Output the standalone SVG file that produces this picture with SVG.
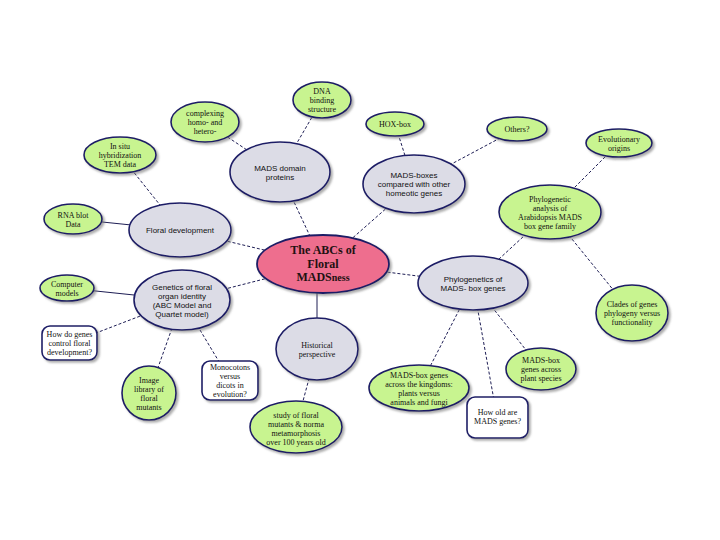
<svg xmlns="http://www.w3.org/2000/svg" width="720" height="540" viewBox="0 0 720 540">
<defs>
<filter id="sh" x="-20%" y="-20%" width="140%" height="140%"><feDropShadow dx="2" dy="2" stdDeviation="1" flood-color="#777" flood-opacity="0.6"/></filter>
<style>
.g{fill:#dcdce6;stroke:#1e1e66;stroke-width:1.6;filter:url(#sh)}
.n{fill:#c8f490;stroke:#1e1e66;stroke-width:1.6;filter:url(#sh)}
.w{fill:#ffffff;stroke:#1e1e66;stroke-width:1.6;filter:url(#sh)}
.c{fill:#ee6e8e;stroke:#1e1e66;stroke-width:1.8;filter:url(#sh)}
.ts{font-family:"Liberation Sans",Arial,sans-serif;font-size:8px;fill:#111;text-anchor:middle}
.tr{font-family:"Liberation Serif","Times New Roman",serif;font-size:8px;fill:#111;text-anchor:middle}
.tc{font-family:"Liberation Serif","Times New Roman",serif;font-size:12px;font-weight:bold;fill:#221111;text-anchor:middle}
#links line{stroke:#1e1e55;stroke-width:1;stroke-dasharray:3,2}
#links line.s{stroke-dasharray:none}
</style>
</defs>
<rect width="720" height="540" fill="#ffffff"/>
<g id="links">
<line x1="323" y1="264" x2="280" y2="172"/>
<line x1="323" y1="264" x2="414" y2="184"/>
<line x1="323" y1="264" x2="180" y2="230"/>
<line x1="323" y1="264" x2="182" y2="300"/>
<line class="s" x1="317" y1="264" x2="317" y2="349"/>
<line x1="323" y1="264" x2="473" y2="283"/>
<line x1="280" y1="172" x2="322" y2="100"/>
<line x1="280" y1="172" x2="205" y2="122"/>
<line x1="414" y1="184" x2="395" y2="124"/>
<line x1="414" y1="184" x2="517" y2="129"/>
<line x1="180" y1="230" x2="120" y2="155"/>
<line class="s" x1="180" y1="230" x2="73" y2="219"/>
<line class="s" x1="182" y1="300" x2="67" y2="288"/>
<line x1="182" y1="300" x2="70" y2="343"/>
<line x1="182" y1="300" x2="149" y2="393"/>
<line x1="182" y1="300" x2="230" y2="380"/>
<line x1="317" y1="349" x2="296" y2="427"/>
<line x1="473" y1="283" x2="550" y2="212"/>
<line x1="550" y1="212" x2="619" y2="143"/>
<line x1="550" y1="212" x2="632" y2="313"/>
<line x1="473" y1="283" x2="541" y2="369"/>
<line x1="473" y1="283" x2="419" y2="388"/>
<line x1="473" y1="283" x2="497" y2="417"/>
</g>
<g id="central"><ellipse class="c" cx="323" cy="264" rx="66" ry="29"/><text class="tc" x="323" y="254">The ABCs of</text><text class="tc" x="323" y="267.5">Floral</text><text class="tc" x="323" y="281">MADS<tspan font-size="10px">ness</tspan></text></g>
<g id="mads-domain"><ellipse class="g" cx="280" cy="172" rx="50" ry="30"/><text class="ts" x="280" y="170.5">MADS domain</text><text class="ts" x="280" y="179.5">proteins</text></g>
<g id="dna"><ellipse class="n" cx="322" cy="100" rx="29" ry="18"/><text class="tr" x="322" y="94">DNA</text><text class="tr" x="322" y="103">binding</text><text class="tr" x="322" y="112">structure</text></g>
<g id="complexing"><ellipse class="n" cx="205" cy="122" rx="34" ry="20"/><text class="tr" x="205" y="116">complexing</text><text class="tr" x="205" y="125">homo- and</text><text class="tr" x="205" y="134">hetero-</text></g>
<g id="insitu"><ellipse class="n" cx="120" cy="155" rx="36" ry="18"/><text class="tr" x="120" y="149">In situ</text><text class="tr" x="120" y="158">hybridization</text><text class="tr" x="120" y="167">TEM data</text></g>
<g id="rna"><ellipse class="n" cx="73" cy="219" rx="29" ry="15"/><text class="tr" x="73" y="217.5">RNA blot</text><text class="tr" x="73" y="226.5">Data</text></g>
<g id="floral-dev"><ellipse class="g" cx="180" cy="230" rx="51" ry="27"/><text class="ts" x="180" y="233">Floral development</text></g>
<g id="mads-boxes"><ellipse class="g" cx="414" cy="184" rx="51" ry="29"/><text class="ts" x="414" y="178">MADS-boxes</text><text class="ts" x="414" y="187">compared with other</text><text class="ts" x="414" y="196">homeotic genes</text></g>
<g id="hox"><ellipse class="n" cx="395" cy="124" rx="29" ry="12"/><text class="tr" x="395" y="127">HOX-box</text></g>
<g id="others"><ellipse class="n" cx="517" cy="129" rx="30" ry="12"/><text class="tr" x="517" y="132">Others?</text></g>
<g id="evo"><ellipse class="n" cx="619" cy="143" rx="33" ry="14"/><text class="tr" x="619" y="141.5">Evolutionary</text><text class="tr" x="619" y="150.5">origins</text></g>
<g id="phylo-analysis"><ellipse class="n" cx="550" cy="212" rx="51" ry="27"/><text class="tr" x="550" y="201.5">Phylogenetic</text><text class="tr" x="550" y="210.5">analysis of</text><text class="tr" x="550" y="219.5">Arabidopsis MADS</text><text class="tr" x="550" y="228.5">box gene family</text></g>
<g id="phylogenetics"><ellipse class="g" cx="473" cy="283" rx="55" ry="27"/><text class="ts" x="473" y="281.5">Phylogenetics of</text><text class="ts" x="473" y="290.5">MADS- box genes</text></g>
<g id="clades"><ellipse class="n" cx="632" cy="313" rx="36" ry="28"/><text class="tr" x="632" y="307">Clades of genes</text><text class="tr" x="632" y="316">phylogeny versus</text><text class="tr" x="632" y="325">functionality</text></g>
<g id="plant-species"><ellipse class="n" cx="541" cy="369" rx="35" ry="21"/><text class="tr" x="541" y="363">MADS-box</text><text class="tr" x="541" y="372">genes across</text><text class="tr" x="541" y="381">plant species</text></g>
<g id="kingdoms"><ellipse class="n" cx="419" cy="388" rx="50" ry="23"/><text class="tr" x="419" y="377.5">MADS-box genes</text><text class="tr" x="419" y="386.5">across the kingdoms:</text><text class="tr" x="419" y="395.5">plants versus</text><text class="tr" x="419" y="404.5">animals and fungi</text></g>
<g id="how-old"><rect class="w" x="467" y="397" width="61" height="41" rx="8"/><text class="tr" x="497.5" y="415">How old are</text><text class="tr" x="497.5" y="424">MADS genes?</text></g>
<g id="historical"><ellipse class="g" cx="317" cy="349" rx="41" ry="31"/><text class="tr" x="317" y="347.5">Historical</text><text class="tr" x="317" y="356.5">perspective</text></g>
<g id="study"><ellipse class="n" cx="296" cy="427" rx="46" ry="26"/><text class="tr" x="296" y="417.5">study of floral</text><text class="tr" x="296" y="426.5">mutants &amp; norma</text><text class="tr" x="296" y="435.5">metamorphosis</text><text class="tr" x="296" y="444.5">over 100 years old</text></g>
<g id="monocots"><rect class="w" x="202" y="361" width="56" height="39" rx="8"/><text class="tr" x="230" y="370">Monocotons</text><text class="tr" x="230" y="379">versus</text><text class="tr" x="230" y="388">dicots in</text><text class="tr" x="230" y="397">evolution?</text></g>
<g id="genetics"><ellipse class="g" cx="182" cy="300" rx="48" ry="30"/><text class="ts" x="182" y="289.5">Genetics of floral</text><text class="ts" x="182" y="298.5">organ identity</text><text class="ts" x="182" y="307.5">(ABC Model and</text><text class="ts" x="182" y="316.5">Quartet model)</text></g>
<g id="computer"><ellipse class="n" cx="67" cy="288" rx="27" ry="13"/><text class="tr" x="67" y="286.5">Computer</text><text class="tr" x="67" y="295.5">models</text></g>
<g id="how-do"><rect class="w" x="42" y="326" width="55" height="34" rx="8"/><text class="tr" x="69.5" y="337">How do genes</text><text class="tr" x="69.5" y="346">control floral</text><text class="tr" x="69.5" y="355">development?</text></g>
<g id="image-lib"><ellipse class="n" cx="149" cy="393" rx="27" ry="27"/><text class="tr" x="149" y="382.5">Image</text><text class="tr" x="149" y="391.5">library of</text><text class="tr" x="149" y="400.5">floral</text><text class="tr" x="149" y="409.5">mutants</text></g>
</svg>
